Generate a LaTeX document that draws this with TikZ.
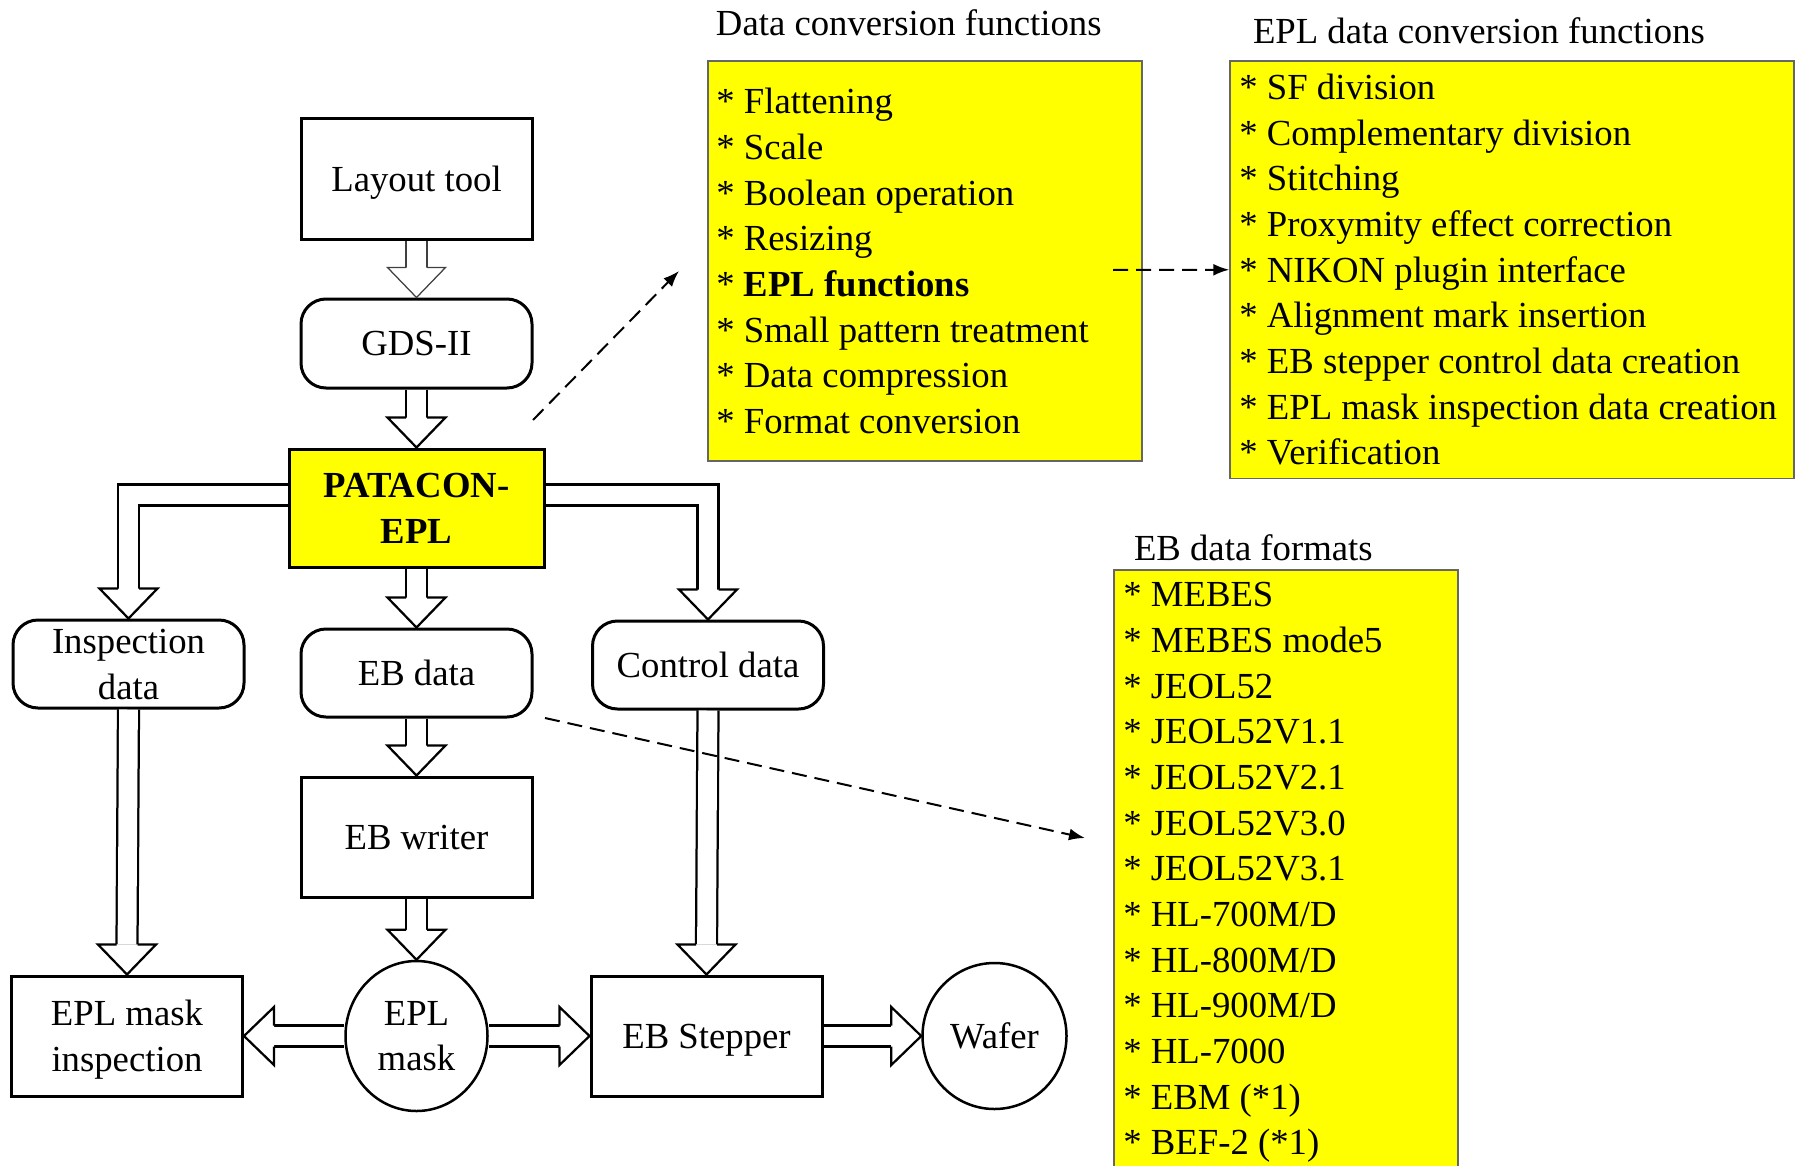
\documentclass[tikz,border=0pt]{standalone}
\usepackage{fontspec}
\setmainfont{Liberation Serif}
\usetikzlibrary{shapes.geometric}
\usetikzlibrary{arrows.meta}
\usetikzlibrary{positioning}
\definecolor{ylw}{RGB}{255,255,0}
\tikzstyle{blk}=[draw, line width=0.06cm, minimum width=4.62cm, minimum height=2.4cm, align=center, inner sep=0pt, text depth=0pt]
\tikzstyle{rblk}=[blk, rounded corners=0.5cm, minimum height=1.76cm]
\tikzstyle{oval}=[draw, ellipse, line width=0.05cm, minimum width=2.84cm, minimum height=3cm, align=center, inner sep=0pt, text depth=0pt]
\tikzstyle{lstbox}=[draw=black!60, line width=0.03cm, fill=ylw, inner sep=0pt]
\tikzstyle{lsttext}=[align=left, inner xsep=0.16cm, inner ysep=0pt]
\tikzstyle{shaft}=[double, double distance=0.375cm, line join=miter]
\tikzstyle{thin}=[line width=0.025cm, color=black!75]
\tikzstyle{dsh}=[dash pattern=on 0.3cm off 0.16cm, line width=0.04cm, -{Latex[length=0.32cm,width=0.24cm]}]
\tikzset{hhead/.pic={
  \fill[white] (0,0) -- (-0.6,0.58) -- (-0.6,-0.58) -- cycle;
  \draw[line join=miter] (-0.6,0.21) -- (-0.6,0.58) -- (0,0) -- (-0.6,-0.58) -- (-0.6,-0.21);
}}

\begin{document}
\begin{tikzpicture}[font=\fontsize{20.9}{26}\selectfont, line width=0.045cm]
\useasboundingbox (0,0) rectangle (35.98,-23.30);
% flow column
\node [blk] (layout) at (8.33,-3.58) {Layout tool};
\node [rblk, below of=layout, node distance=3.29cm, minimum height=1.78cm] (gds) {GDS-II};
\node [blk, below of=gds, node distance=3.29cm, fill=ylw, minimum width=5.1cm, minimum height=2.36cm, font=\fontsize{20.9}{26}\selectfont\bfseries] (patacon) {PATACON-\\EPL};
\node [rblk, below of=patacon, node distance=3.3cm] (ebdata) {EB data};
\node [blk, below of=ebdata, node distance=3.28cm] (ebwriter) {EB writer};
\node [oval, below of=ebwriter, node distance=3.98cm] (eplmask) {EPL\\mask};
\node [rblk] (inspdata) at (2.57,-13.28) {Inspection\\data};
\node [rblk] (control) at (14.16,-13.3) {Control data};
\node [blk, left of=eplmask, node distance=5.79cm] (maskinsp) {EPL mask\\inspection};
\node [blk, right of=eplmask, node distance=5.8cm] (stepper) {EB Stepper};
\node [oval, right of=stepper, node distance=5.76cm, minimum width=2.88cm, minimum height=2.92cm] (wafer) {Wafer};

% yellow lists
\node [lstbox, minimum width=8.68cm, minimum height=8cm] (dcf) at (18.5,-5.22) {};
\node [lsttext, right=0cm of dcf.west] (dcflist) {* Flattening\\{*} Scale\\{*} Boolean operation\\{*} Resizing\\{*} \textbf{EPL functions}\\{*} Small pattern treatment\\{*} Data compression\\{*} Format conversion};
\node [anchor=base west] (dcftitle) at (14.18,-0.71) {Data conversion functions};
\node [lstbox, minimum width=11.28cm, minimum height=8.34cm] (epl) at (30.24,-5.395) {};
\node [lsttext, inner xsep=0.18cm, right=0cm of epl.west] (epllist) {* SF division\\{*} Complementary division\\{*} Stitching\\{*} Proxymity effect correction\\{*} NIKON plugin interface\\{*} Alignment mark insertion\\{*} EB stepper control data creation\\{*} EPL mask inspection data creation\\{*} Verification};
\node [anchor=base west] (epltitle) at (24.92,-0.87) {EPL data conversion functions};
\node [lstbox, minimum width=6.88cm, minimum height=12.1cm] (ebf) at (25.72,-17.45) {};
\node [lsttext, inner xsep=0.18cm, right=0cm of ebf.west] (ebflist) {* MEBES\\{*} MEBES mode5\\{*} JEOL52\\{*} JEOL52V1.1\\{*} JEOL52V2.1\\{*} JEOL52V3.0\\{*} JEOL52V3.1\\{*} HL-700M/D\\{*} HL-800M/D\\{*} HL-900M/D\\{*} HL-7000\\{*} EBM (*1)\\{*} BEF-2 (*1)};
\node [anchor=base west] (ebftitle) at (22.54,-11.2) {EB data formats};

% hollow arrows down
\draw[shaft, thin, double distance=0.395cm] (layout.south) -- ([yshift=0.6cm]gds.north);
\pic[rotate=-90, thin] at (gds.north) {hhead};
\draw[shaft] (gds.south) -- ([yshift=0.6cm]patacon.north);
\pic[rotate=-90] at (patacon.north) {hhead};
\draw[shaft] (patacon.south) -- ([yshift=0.6cm]ebdata.north);
\pic[rotate=-90] at (ebdata.north) {hhead};
\draw[shaft] (ebdata.south) -- ([yshift=0.6cm]ebwriter.north);
\pic[rotate=-90] at (ebwriter.north) {hhead};
\draw[shaft] (ebwriter.south) -- ([yshift=0.6cm]eplmask.north);
\pic[rotate=-90] at (eplmask.north) {hhead};
\draw[shaft] (inspdata.south) -- ([yshift=0.6cm]maskinsp.north);
\pic[rotate=-90] at (maskinsp.north) {hhead};
\draw[shaft] (control.south) -- ([yshift=0.6cm]stepper.north);
\pic[rotate=-90] at (stepper.north) {hhead};
% branches
\draw[shaft] ([yshift=0.26cm]patacon.west) -| ([yshift=0.6cm]inspdata.north);
\pic[rotate=-90] at (inspdata.north) {hhead};
\draw[shaft] ([yshift=0.26cm]patacon.east) -| ([yshift=0.6cm]control.north);
\pic[rotate=-90] at (control.north) {hhead};
% hollow arrows sideways
\draw[shaft] (eplmask.west) -- ([xshift=0.6cm]maskinsp.east);
\pic[rotate=180] at (maskinsp.east) {hhead};
\draw[shaft] (eplmask.east) -- ([xshift=-0.6cm]stepper.west);
\pic at (stepper.west) {hhead};
\draw[shaft] (stepper.east) -- ([xshift=-0.6cm]wafer.west);
\pic at (wafer.west) {hhead};

% dashed links
\coordinate (d1s) at (10.66,-8.4);
\coordinate (d1e) at (13.58,-5.42);
\coordinate (d2s) at (22.26,-5.4);
\coordinate (d3s) at (10.9,-14.36);
\coordinate (d3e) at (21.7,-16.76);
\draw[dsh] (d1s) -- (d1e);
\draw[dsh] (d2s) -- (epl.west);
\draw[dsh] (d3s) -- (d3e);
\end{tikzpicture}
\end{document}
